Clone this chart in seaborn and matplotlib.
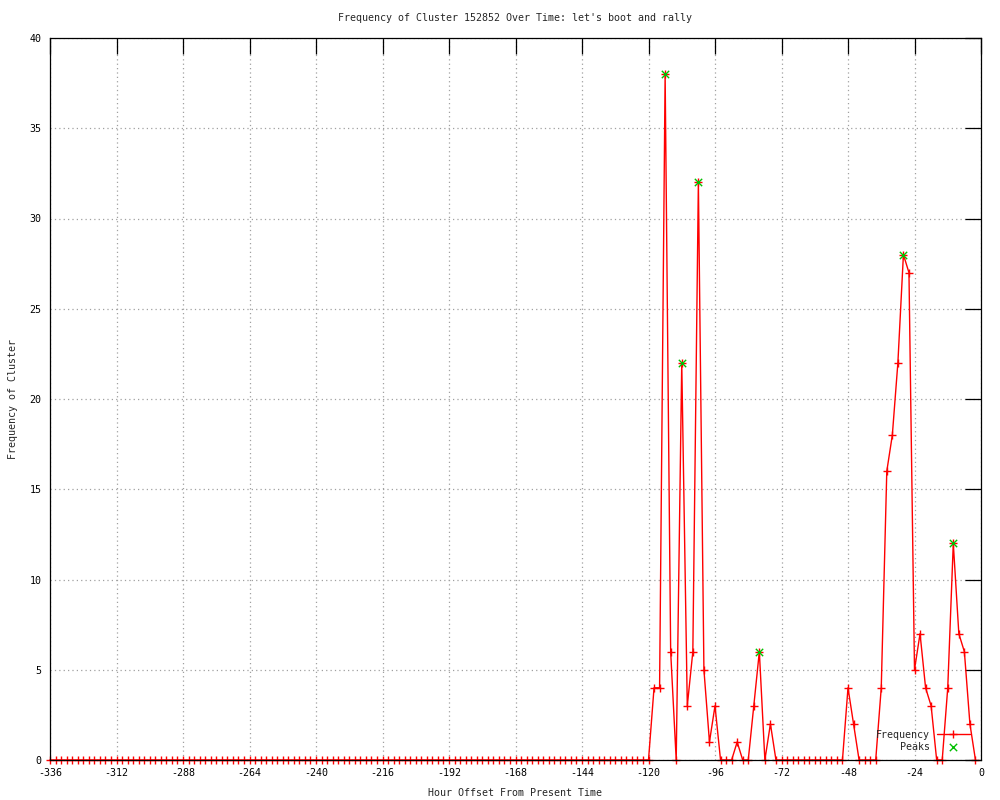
import matplotlib
matplotlib.use("Agg")
import matplotlib.pyplot as plt
import seaborn as sns

# hourly bins, every 2 hours from two weeks back up to now
hours = list(range(-336, 0, 2))
frequency = (
    [0] * 109  # -336 .. -120: nothing
    + [4, 4, 38, 6, 0, 22, 3, 6, 32, 5, 1, 3, 0, 0, 0, 1, 0, 0, 3, 6, 0, 2, 0]
    + [0] * 12  # -72 .. -50
    + [4, 2, 0, 0, 0, 0, 4, 16, 18, 22, 28, 27, 5, 7, 4, 3, 0, 0, 4, 12, 7, 6, 2, 0]
)
peak_hours = [-114, -108, -102, -80, -28, -10]
peak_values = [38, 22, 32, 6, 28, 12]

x_ticks = list(range(-336, 1, 24))
y_ticks = list(range(0, 41, 5))

title = "Frequency of Cluster 152852 Over Time: let's boot and rally"

sns.set_style("white")
plt.rcParams["font.family"] = ["DejaVu Sans Mono"]
plt.rcParams["axes.unicode_minus"] = False
fs = 7.2

fig = plt.figure(figsize=(10, 8), dpi=100)
ax = fig.add_axes([0.05, 0.05, 0.931, 0.9025])

sns.lineplot(x=hours, y=frequency, ax=ax, color="#ff0000", lw=1,
             marker="+", ms=6, mew=1, mec="#ff0000", label="Frequency",
             clip_on=False, zorder=2)
sns.scatterplot(x=peak_hours, y=peak_values, ax=ax, marker="x",
                color="#00c000", s=28, linewidth=1, label="Peaks", zorder=3)

ax.set_xlim(-336, 0)
ax.set_ylim(0, 40)
ax.set_xticks(x_ticks)
ax.set_yticks(y_ticks)
ax.set_xlabel("")
ax.set_ylabel("")
ax.grid(True, color="#a0a0a0", linestyle=(0, (1, 2.5)), linewidth=0.9)
ax.tick_params(direction="in", length=11.5, width=0.9, top=True, right=True,
               labelsize=fs, pad=6, colors="black")
for sp in ax.spines.values():
    sp.set_color("black")
    sp.set_linewidth(0.9)

fig.text(0.5155, 1 - 18 / 800, title, ha="center", va="center", fontsize=fs)
fig.text(0.5155, 1 - 793 / 800, "Hour Offset From Present Time",
         ha="center", va="center", fontsize=fs)
fig.text(0.013, 1 - 399 / 800, "Frequency of Cluster", rotation=90,
         ha="center", va="center", fontsize=fs)

ax.legend(loc="lower right", bbox_to_anchor=(0.988, 0.011), frameon=False,
          markerfirst=False, handlelength=3.3, handletextpad=0.7,
          borderpad=0, borderaxespad=0, labelspacing=0.25, fontsize=fs,
          numpoints=1, scatterpoints=1)

fig.savefig("out.png", dpi=100)
